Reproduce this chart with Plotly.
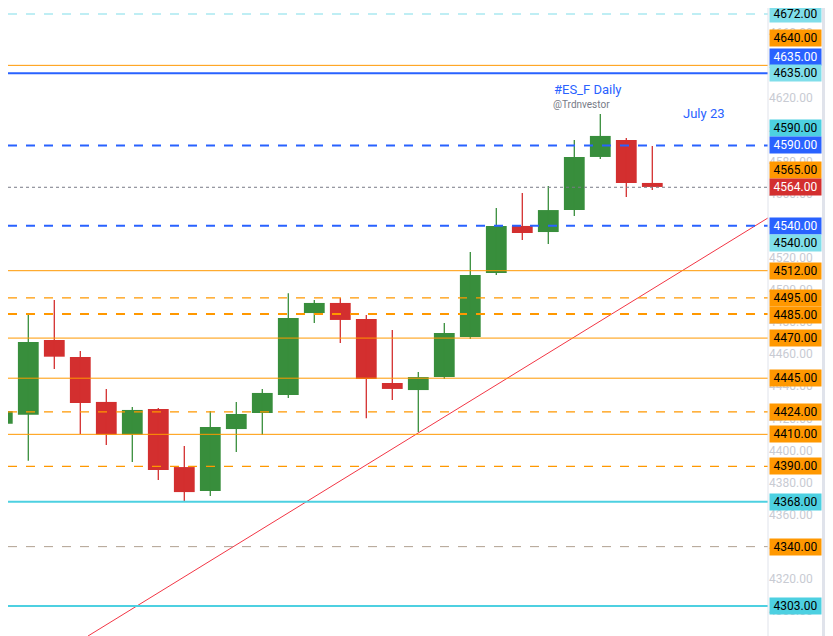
import plotly.graph_objects as go

opens  = [4416.6,4422.2,4468.8,4458.2,4430.2,4409.8,4425.8,4389.6,4374.7,4413.3,4423.3,4434.5,4485.6,4491.9,4481.9,4442.0,4437.6,4445.7,4470.7,4510.6,4539.9,4536.1,4549.8,4582.9,4593.5,4566.7]
highs  = [4439.5,4485.6,4493.7,4461.9,4438.3,4427.0,4426.4,4402.7,4424.5,4430.2,4438.3,4498.0,4493.7,4495.0,4484.4,4475.0,4448.9,4479.4,4523.7,4551.1,4560.4,4564.8,4593.5,4609.7,4594.7,4589.7]
lows   = [4383.6,4393.6,4450.7,4410.2,4403.4,4392.8,4381.5,4368.4,4371.6,4399.0,4409.6,4432.6,4479.4,4467.0,4420.0,4431.4,4411.5,4444.5,4469.4,4509.3,4531.1,4528.6,4546.1,4581.6,4557.9,4562.3]
closes = [4424.5,4467.6,4458.4,4429.5,4409.8,4425.2,4387.8,4374.0,4414.6,4422.7,4435.8,4482.5,4491.9,4481.3,4444.5,4438.3,4445.7,4473.2,4509.3,4539.9,4535.5,4549.8,4582.9,4596.0,4566.7,4564.2]

# (price, color, width, dash)
levels = [
    (4672, "#80deea", 1.2, "dash"),
    (4640, "#ff9800", 1, "solid"),
    (4635, "#2962ff", 2, "solid"),
    (4590, "#2962ff", 2, "dash"),
    (4564, "#787b86", 1, "dot"),
    (4540, "#2962ff", 2, "dash"),
    (4512, "#ff9800", 1, "solid"),
    (4495, "#ff9800", 1.2, "dash"),
    (4485, "#ff9800", 2, "dash"),
    (4470, "#ff9800", 1, "solid"),
    (4445, "#ff9800", 1, "solid"),
    (4424, "#ff9800", 1.2, "dash"),
    (4410, "#ff9800", 1, "solid"),
    (4390, "#ff9800", 1.2, "dash"),
    (4368, "#4dd0e1", 2, "solid"),
    (4340, "#b0a090", 1, "dash"),
    (4303, "#4dd0e1", 2, "solid"),
]
# (price, bg, text color)
labels = [
    (4672, "#80deea", "black"), (4640, "#ff9800", "black"), (4635, "#2962ff", "white"),
    (4635, "#80deea", "black"), (4590, "#4dd0e1", "black"), (4590, "#2962ff", "white"),
    (4565, "#ff9800", "black"), (4564, "#d32f2f", "white"), (4540, "#2962ff", "white"),
    (4540, "#80deea", "black"), (4512, "#ff9800", "black"), (4495, "#ff9800", "black"),
    (4485, "#ff9800", "black"), (4470, "#ff9800", "black"), (4445, "#ff9800", "black"),
    (4424, "#ff9800", "black"), (4410, "#ff9800", "black"), (4390, "#ff9800", "black"),
    (4368, "#4dd0e1", "black"), (4340, "#ff9800", "black"), (4303, "#4dd0e1", "black"),
]
label_px = [14,38,57,73,128,145,170,187,226,243,271,298,315,338,378,412,434,466,502,547,606]
trend_x = [3.296, 29.45]
trend_y = [4284.3, 4544.9]

OFF = 8  # page body margin
W, H = 833 - OFF, 636 - OFF
def py(p):  # page pixel y -> price
    return 4303 + (606 - p) / 1.6043
def ix(p):  # page pixel x -> candle index
    return (p - 2.3) / 26
def fx(p):  # page pixel x -> paper fraction
    return (p - OFF) / W

fig = go.Figure()
n = len(opens)
xs = list(range(n))
for up, col in [(True, "#388e3c"), (False, "#d32f2f")]:
    idx = [i for i in xs if (closes[i] >= opens[i]) == up]
    wx, wy = [], []
    for i in idx:
        wx += [i, i, None]; wy += [lows[i], highs[i], None]
    fig.add_trace(go.Scatter(x=wx, y=wy, mode="lines", line=dict(color=col, width=1.3), hoverinfo="skip"))
    fig.add_trace(go.Bar(x=idx, base=[min(opens[i], closes[i]) for i in idx],
                         y=[max(abs(closes[i]-opens[i]), 0.8) for i in idx],
                         width=0.8, marker=dict(color=col, line=dict(width=0))))

for p, c, w, d in levels:
    fig.add_shape(type="line", xref="paper", x0=0, x1=fx(768), y0=p, y1=p, line=dict(color=c, width=w, dash=d))
fig.add_trace(go.Scatter(x=trend_x, y=trend_y, mode="lines", line=dict(color="#f23645", width=1)))

for (p, bg, tc), ypx in zip(labels, label_px):
    fig.add_annotation(xref="paper", yref="y", x=fx(769), y=py(ypx), xanchor="left", yanchor="middle",
                       text=f"{p:.2f}", showarrow=False, bgcolor=bg, width=49, height=14,
                       font=dict(family="Roboto", size=12, color=tc), borderpad=1)

fig.add_annotation(xref="x", yref="y", x=ix(587), y=py(89), text="#ES_F Daily", showarrow=False,
                   font=dict(family="Roboto", size=13, color="#2962ff"))
fig.add_annotation(xref="x", yref="y", x=ix(581), y=py(104), text="@Trdnvestor", showarrow=False,
                   font=dict(family="Roboto", size=10, color="#787b86"))
fig.add_annotation(xref="x", yref="y", x=ix(704), y=py(113), text="July 23", showarrow=False,
                   font=dict(family="Roboto", size=13, color="#2962ff"))

fig.add_shape(type="line", xref="paper", yref="paper", x0=fx(768), x1=fx(768), y0=0, y1=1, line=dict(color="#e0e3eb", width=1))
fig.add_shape(type="rect", xref="paper", yref="paper", x0=fx(822), x1=1, y0=0, y1=1, fillcolor="#e0e3eb", line=dict(width=0))

fig.update_layout(width=W, height=H, margin=dict(l=0, r=0, t=0, b=0, autoexpand=False), showlegend=False,
                  plot_bgcolor="white", paper_bgcolor="white", barmode="overlay",
                  xaxis=dict(domain=[0, fx(768)], range=[ix(OFF), ix(768)], visible=False, automargin=False),
                  yaxis=dict(range=[py(636), py(OFF)], side="right", dtick=20, showgrid=False, zeroline=False, automargin=False,
                             tickfont=dict(family="Roboto", size=12, color="#c8cbd3"), ticks="",
                             tickformat=".2f", ticklabelposition="outside"))
fig.write_html("out.html")
